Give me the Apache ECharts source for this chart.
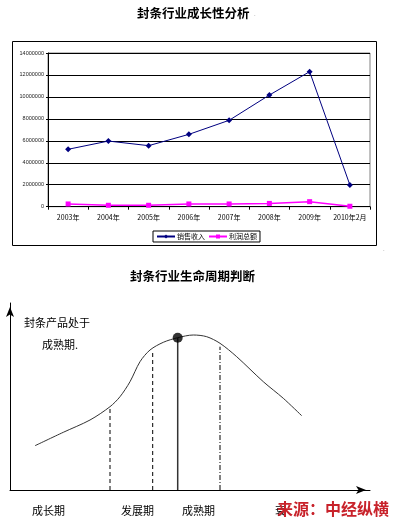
<!DOCTYPE html>
<html>
<head>
<meta charset="utf-8">
<script src="https://cdn.jsdelivr.net/npm/echarts@6/dist/echarts.min.js"></script>
<style>html,body{margin:0;padding:0;background:#fff;}#c{width:399px;height:526px;}</style>
</head>
<body>
<div id="c"></div>
<script>
// ---- Chart 1 data ----
const categories = ['2003年', '2004年', '2005年', '2006年', '2007年', '2008年', '2009年', '2010年2月'];
const salesRevenue = [5230000, 5980000, 5560000, 6590000, 7870000, 10170000, 12300000, 1980000];
const totalProfit = [250000, 130000, 130000, 250000, 250000, 300000, 460000, 40000];
const seriesNames = ['销售收入', '利润总额'];

// ---- Chart 2 (life cycle diagram) data, in diagram units ----
const lifecycleCurve = [[25, 44.3], [53.3, 57.7], [80, 70], [100, 83.3], [110, 93.3], [120, 108.3], [130, 128.3], [140, 140], [153.3, 147.7], [167.7, 152.3], [183.3, 155], [196.7, 153.3], [210, 146.7], [226.7, 133.3], [253.3, 108.3], [273.3, 91.7], [291.7, 74.3]];
const peakPoint = [167.7, 152.3];
const dividerGrowthEnd = [[100, 0], [100, 83.3]];
const dividerDevelopMid = [[142.7, 0], [142.7, 138.3]];
const dividerPeak = [[167.7, 0], [167.7, 152.3]];
const dividerMatureEnd = [[210, 0], [210, 143.3]];
const phaseLabels = ['成长期', '发展期', '成熟期', '衰'];

const chart = echarts.init(document.getElementById('c'), null, {renderer: 'canvas'});
const cjk = '"Noto Sans CJK SC", sans-serif';

const option = {
  backgroundColor: '#fff',
  animation: false,
  textStyle: {fontFamily: cjk},
  legend: {
    data: seriesNames,
    left: 153, top: 231,
    orient: 'horizontal',
    borderColor: '#000', borderWidth: 1,
    padding: [2, 3, 2, 3],
    itemGap: 3, itemWidth: 18, itemHeight: 5,
    textStyle: {fontSize: 7, color: '#000', padding: [0, 0, 0, -3]}
  },
  grid: [
    {left: 48, right: 29, top: 53, bottom: 319.3, show: true, borderColor: '#808080', borderWidth: 1},
    {left: 10, right: 29, top: 303, bottom: 36}
  ],
  xAxis: [
    {
      type: 'category', gridIndex: 0, data: categories, boundaryGap: true,
      axisLine: {lineStyle: {color: '#000', width: 1}},
      axisTick: {show: true, length: 3, lineStyle: {color: '#000'}},
      axisLabel: {fontSize: 7, color: '#000', margin: 7, interval: 0}
    },
    {
      type: 'value', gridIndex: 1, min: 0, max: 360,
      axisLine: {show: true, symbol: ['none', 'arrow'], symbolSize: [6, 10], symbolOffset: [0, -4], lineStyle: {color: '#000', width: 1}},
      axisTick: {show: false}, axisLabel: {show: false}, splitLine: {show: false}
    }
  ],
  yAxis: [
    {
      type: 'value', gridIndex: 0, min: 0, max: 14000000, interval: 2000000,
      axisLine: {show: true, lineStyle: {color: '#000', width: 1}},
      axisTick: {show: true, length: 2, lineStyle: {color: '#000'}},
      axisLabel: {fontSize: 5.5, color: '#222', margin: 4, fontFamily: 'Arial, sans-serif', formatter: v => String(v)},
      splitLine: {show: true, lineStyle: {color: '#000', width: 1}}
    },
    {
      type: 'value', gridIndex: 1, min: 0, max: 187,
      axisLine: {show: true, symbol: ['none', 'arrow'], symbolSize: [6, 10], symbolOffset: [0, -4], lineStyle: {color: '#000', width: 1}},
      axisTick: {show: false}, axisLabel: {show: false}, splitLine: {show: false}
    }
  ],
  series: [
    {
      name: seriesNames[0], type: 'line', xAxisIndex: 0, yAxisIndex: 0,
      data: salesRevenue, symbol: 'diamond', symbolSize: 6,
      itemStyle: {color: '#000080'}, lineStyle: {color: '#000080', width: 1}
    },
    {
      name: seriesNames[1], type: 'line', xAxisIndex: 0, yAxisIndex: 0,
      data: totalProfit, symbol: 'rect', symbolSize: 5,
      itemStyle: {color: '#FF00FF'}, lineStyle: {color: '#FF00FF', width: 1.5}
    },
    {
      name: 'curve', type: 'line', xAxisIndex: 1, yAxisIndex: 1,
      data: lifecycleCurve, smooth: 0.3, showSymbol: false,
      lineStyle: {color: '#333', width: 1}
    },
    {
      name: 'divider1', type: 'line', xAxisIndex: 1, yAxisIndex: 1, data: dividerGrowthEnd, showSymbol: false,
      lineStyle: {color: '#000', width: 1, type: [4, 3]}
    },
    {
      name: 'divider2', type: 'line', xAxisIndex: 1, yAxisIndex: 1, data: dividerDevelopMid, showSymbol: false,
      lineStyle: {color: '#000', width: 1, type: [4, 3]}
    },
    {
      name: 'divider3', type: 'line', xAxisIndex: 1, yAxisIndex: 1, data: dividerPeak, showSymbol: false,
      lineStyle: {color: '#333', width: 1.5}
    },
    {
      name: 'divider4', type: 'line', xAxisIndex: 1, yAxisIndex: 1, data: dividerMatureEnd, showSymbol: false,
      lineStyle: {color: '#000', width: 1, type: [5, 2, 1, 2]}
    },
    {
      name: 'peak', type: 'scatter', xAxisIndex: 1, yAxisIndex: 1, data: [peakPoint],
      symbol: 'circle', symbolSize: 10, itemStyle: {color: '#000'}, z: 5
    }
  ],
  graphic: [
    {type: 'rect', shape: {x: 12.5, y: 41.5, width: 364, height: 204}, style: {fill: 'none', stroke: '#000', lineWidth: 1}, z: -1, silent: true},
    {type: 'text', left: 137, top: 7, style: {text: '封条行业成长性分析', font: 'bold 12.5px ' + cjk, fill: '#000'}},
    {type: 'text', left: 254, top: 11, style: {text: '.', font: '6px sans-serif', fill: '#666'}},
    {type: 'text', left: 383, top: 246, style: {text: '.', font: '6px sans-serif', fill: '#666'}},
    {type: 'text', left: 130, top: 270, style: {text: '封条行业生命周期判断', font: 'bold 12.5px ' + cjk, fill: '#000'}},
    {type: 'text', left: 24, top: 317, style: {text: '封条产品处于', font: '11px ' + cjk, fill: '#000'}},
    {type: 'text', left: 42, top: 339, style: {text: '成熟期.', font: '11px ' + cjk, fill: '#000'}},
    {type: 'text', left: 32, top: 505, style: {text: phaseLabels[0], font: '11px ' + cjk, fill: '#000'}},
    {type: 'text', left: 121, top: 505, style: {text: phaseLabels[1], font: '11px ' + cjk, fill: '#000'}},
    {type: 'text', left: 182, top: 505, style: {text: phaseLabels[2], font: '11px ' + cjk, fill: '#000'}},
    {type: 'text', left: 275, top: 505, style: {text: phaseLabels[3], font: '11px ' + cjk, fill: '#000'}},
    {type: 'text', left: 277, top: 501, z: 10, style: {text: '来源：中经纵横', font: 'bold 16px ' + cjk, fill: '#c8222a'}}
  ]
};
chart.setOption(option);
</script>
</body>
</html>
